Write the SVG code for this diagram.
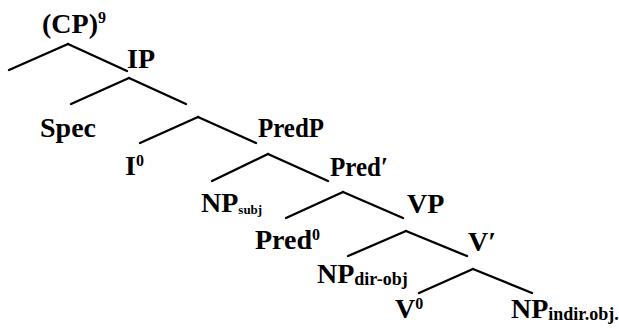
<svg xmlns="http://www.w3.org/2000/svg" width="619" height="329" viewBox="0 0 619 329">
<style>
.lbl{font-family:"Liberation Serif","Times New Roman",serif;font-weight:bold;font-size:28px;fill:#000}
.sup{font-size:16px}
.sub{font-size:18px}
.sm{font-size:13px}
.edge{stroke:#000;stroke-width:2.4;fill:none;stroke-linecap:round}
</style>
<rect width="619" height="329" fill="#fff"/>
<g id="connectors">
<line class="edge" x1="68" y1="44" x2="9" y2="70"/>
<line class="edge" x1="68" y1="44" x2="127" y2="71"/>
<line class="edge" x1="129" y1="78" x2="71" y2="104"/>
<line class="edge" x1="129" y1="78" x2="186" y2="104"/>
<line class="edge" x1="198" y1="117" x2="140" y2="143"/>
<line class="edge" x1="198" y1="117" x2="256" y2="143"/>
<line class="edge" x1="268" y1="154" x2="212" y2="181"/>
<line class="edge" x1="268" y1="154" x2="328" y2="181"/>
<line class="edge" x1="343" y1="192" x2="286" y2="218"/>
<line class="edge" x1="343" y1="192" x2="403" y2="218"/>
<line class="edge" x1="406" y1="231" x2="348" y2="256"/>
<line class="edge" x1="406" y1="231" x2="467" y2="256"/>
<line class="edge" x1="473" y1="269" x2="419" y2="293"/>
<line class="edge" x1="473" y1="269" x2="532" y2="293"/>
</g>
<g id="node-cp"><text class="lbl" x="42" y="33">(CP)<tspan class="sup" dy="-10">9</tspan></text></g>
<g id="node-ip"><text class="lbl" x="127" y="68">IP</text></g>
<g id="node-spec"><text class="lbl" x="40" y="137">Spec</text></g>
<g id="node-i0"><text class="lbl" x="125" y="175">I<tspan class="sup" dy="-9">0</tspan></text></g>
<g id="node-predp"><text class="lbl" x="258" y="137" textLength="66" lengthAdjust="spacingAndGlyphs">PredP</text></g>
<g id="node-predbar"><text class="lbl" x="330" y="176" textLength="58" lengthAdjust="spacingAndGlyphs">Pred′</text></g>
<g id="node-npsubj"><text class="lbl" x="201" y="212">NP<tspan class="sm" dy="2">subj</tspan></text></g>
<g id="node-pred0"><text class="lbl" x="255" y="249">Pred<tspan class="sup" dy="-9">0</tspan></text></g>
<g id="node-vp"><text class="lbl" x="407" y="213">VP</text></g>
<g id="node-vbar"><text class="lbl" x="468" y="251">V′</text></g>
<g id="node-npdirobj"><text class="lbl" x="317" y="283">NP<tspan class="sub" dy="2">dir-obj</tspan></text></g>
<g id="node-v0"><text class="lbl" x="395" y="318">V<tspan class="sup" dy="-9">0</tspan></text></g>
<g id="node-npindirobj"><text class="lbl" x="511" y="318">NP<tspan class="sub" dy="2">indir.obj.</tspan></text></g>
</svg>
